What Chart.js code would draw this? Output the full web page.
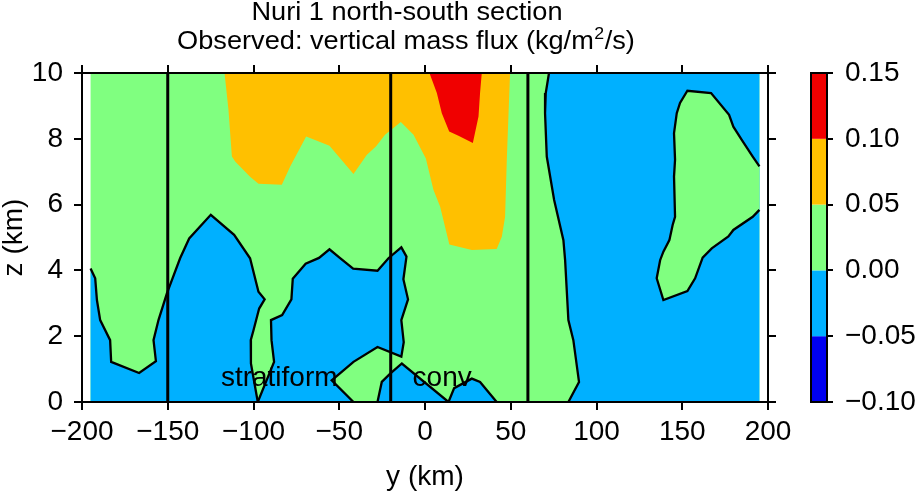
<!DOCTYPE html>
<html>
<head>
<meta charset="utf-8">
<script src="https://cdn.jsdelivr.net/npm/chart.js@4.4.1/dist/chart.umd.min.js"></script>
<style>
  html, body { margin: 0; padding: 0; background: #fff; }
</style>
</head>
<body>
<canvas id="c" width="919" height="491"></canvas>
<script>
var FONT = "'Liberation Sans', Arial, Helvetica, sans-serif";

// axes
var yTickStep = 50;
var zTickStep = 2;
var levels = [-0.10, -0.05, 0.00, 0.05, 0.10, 0.15];
var levelColors = ['#0000f0', '#00b0ff', '#80ff80', '#ffc000', '#f00000'];

// observed section
var dataEdge = [-195, 195];
var sectionBounds = [-150, -20, 60];
var regionNames = ['stratiform', 'conv'];
var regionNameY = [-85, 10];
var regionNameZ = [0.5, 0.5];

var titleLine1 = 'Nuri 1 north-south section';
var titleLine2 = ['Observed: vertical mass flux (kg/m', '2', '/s)'];

// 0 contour, [y km, z km]
var zeroSouth = [
  [-195, 4.06], [-192.3, 3.76], [-191.3, 3.10], [-189.4, 2.49], [-183.6, 1.88],
  [-183.0, 1.22], [-166.7, 0.88], [-156.9, 1.24], [-158.3, 1.88], [-155.4, 2.49],
  [-150.5, 3.30], [-142.8, 4.37], [-137.5, 4.97], [-124.9, 5.69], [-111.3, 5.08],
  [-102.0, 4.37], [-97.1, 3.35], [-93.5, 3.12], [-96.7, 2.84], [-100.0, 2.18],
  [-101.6, 1.88], [-101.5, 1.17], [-97.5, 0]
];
var zeroMid = [
  [-97.5, 0], [-88.0, 1.22], [-89.5, 1.88], [-89.8, 2.49], [-83.3, 2.64],
  [-77.9, 3.12], [-77.1, 3.75], [-69.6, 4.20], [-61.8, 4.38], [-55.7, 4.64],
  [-49.5, 4.37], [-41.9, 4.05], [-27.7, 3.99], [-21.3, 4.37], [-13.8, 4.70],
  [-10.8, 4.42], [-12.6, 3.73], [-9.9, 3.12], [-13.8, 2.49], [-12.4, 1.82],
  [-13.8, 1.38], [-27.7, 1.67], [-41.7, 1.22], [-54.4, 0.66], [-41.7, 0]
];
var zeroConv = [
  [-27.7, 0], [-25.2, 0.61], [-20.3, 0.86], [-13.5, 1.17], [13.7, 0],
  [17.0, 0.42], [27.3, 0.71], [32.1, 0.61], [41.8, 0]
];
var zeroNorth = [
  [72.3, 10], [70.4, 9.39], [70.0, 8.78], [71.0, 7.46], [75.3, 6.14],
  [80.7, 4.92], [81.7, 4.31], [83.6, 2.49], [86.5, 1.88], [89.8, 0.61], [83.6, 0]
];
var zeroIsland = [
  [195, 7.16], [191.1, 7.46], [184.7, 7.97], [179.8, 8.37], [177.3, 8.73],
  [166.8, 9.39], [153.0, 9.46], [148.7, 9.09], [146.8, 8.78], [145.2, 8.17],
  [145.8, 7.36], [145.2, 6.85], [145.8, 5.63], [144.4, 5.38], [142.5, 4.92],
  [139.0, 4.57], [137.1, 4.31], [135.1, 3.76], [139.0, 3.10], [153.0, 3.37],
  [157.5, 3.76], [161.9, 4.39], [167.2, 4.67], [176.9, 5.03], [179.8, 5.23],
  [191.1, 5.63], [195, 5.84]
];
// 0.05 contour
var flux005 = [
  [-116.9, 10], [-114.6, 8.88], [-112.6, 7.46], [-110.7, 7.31], [-102.0, 6.85],
  [-97.1, 6.63], [-83.5, 6.60], [-78.6, 7.16], [-69.3, 8.07], [-55.7, 7.79],
  [-49.5, 7.41], [-41.7, 6.93], [-34.0, 7.51], [-28.5, 7.77], [-23.3, 8.12],
  [-14.1, 8.51], [-6.7, 8.12], [0.5, 7.40], [4.9, 6.45], [8.8, 5.94],
  [14.2, 4.79], [27.3, 4.62], [41.8, 4.65], [44.8, 5.02], [46.7, 5.63],
  [47.7, 7.36], [49.6, 10]
];
// 0.10 contour
var flux010 = [
  [2.6, 10], [6.9, 9.39], [9.8, 8.78], [14.1, 8.22], [19.5, 8.09],
  [27.9, 7.87], [31.2, 8.68], [32.1, 9.39], [33.1, 10]
];

function pts(a) {
    return a.map(function (p) { return {x: p[0], y: p[1]}; });
}
function area(a, color) {
    return {data: pts(a), fill: 'shape', backgroundColor: color,
            borderColor: 'rgba(0,0,0,0)', borderWidth: 0, pointRadius: 0};
}
function line(a, w) {
    return {data: pts(a), fill: false, borderColor: '#000',
            borderWidth: w, pointRadius: 0};
}
function fmtLevel(v) {
    var s = Math.abs(v).toFixed(2);
    return v < -1e-9 ? '\u2212' + s : s;
}

var green = levelColors[2], blue = levelColors[1];
var datasets = [
    area([[dataEdge[0], 0], [dataEdge[0], 10], [dataEdge[1], 10], [dataEdge[1], 0]], green),
    area(zeroSouth.concat([[dataEdge[0], 0]]), blue),
    area(zeroMid, blue),
    area(zeroConv, blue),
    area(zeroNorth.concat([[dataEdge[1], 0], [dataEdge[1], 10]]), blue),
    area(zeroIsland, green),
    area(flux005, levelColors[3]),
    area(flux010, levelColors[4]),
    line(zeroSouth, 2.3),
    line(zeroMid, 2.3),
    line(zeroConv, 2.3),
    line(zeroNorth, 2.3),
    line(zeroIsland, 2.3)
];
sectionBounds.forEach(function (y) {
    datasets.push(line([[y, 0], [y, 10]], 3));
});
// first in list is drawn first
datasets.forEach(function (d, i) { d.order = datasets.length - i; });

var overlay = {
    id: 'overlay',
    afterDatasetsDraw: function (chart) {
        var ctx = chart.ctx;
        var xs = chart.scales.x, zs = chart.scales.y, cb = chart.scales.cb;
        ctx.save();
        ctx.font = '28px ' + FONT;
        ctx.fillStyle = '#000';
        ctx.textAlign = 'center';
        ctx.textBaseline = 'alphabetic';
        regionNames.forEach(function (t, i) {
            ctx.fillText(t, xs.getPixelForValue(regionNameY[i]), zs.getPixelForValue(regionNameZ[i]));
        });

        // colour bar
        var x0 = cb.left - 16;
        for (var i = 0; i < levelColors.length; i++) {
            var top = cb.getPixelForValue(levels[i + 1]);
            var bot = cb.getPixelForValue(levels[i]);
            ctx.fillStyle = levelColors[i];
            ctx.fillRect(x0, top, 16, bot - top);
        }
        ctx.strokeStyle = '#000';
        ctx.lineWidth = 2;
        ctx.strokeRect(x0, cb.top, 16, cb.bottom - cb.top);
        ctx.restore();
    },
    afterDraw: function (chart) {
        var ctx = chart.ctx;
        var cx = 407, sx = 1.045;
        ctx.save();
        ctx.fillStyle = '#000';
        ctx.textBaseline = 'alphabetic';
        ctx.textAlign = 'left';

        var big = '26px ' + FONT, small = '17px ' + FONT;
        ctx.font = big;
        var w = ctx.measureText(titleLine1).width;
        ctx.save();
        ctx.translate(cx, 20);
        ctx.scale(sx, 1);
        ctx.fillText(titleLine1, -w / 2, 0);
        ctx.restore();

        var w0 = ctx.measureText(titleLine2[0]).width;
        var w2 = ctx.measureText(titleLine2[2]).width;
        ctx.font = small;
        var w1 = ctx.measureText(titleLine2[1]).width + 1;
        var tw = w0 + w1 + w2;
        ctx.save();
        ctx.translate(cx - 1, 49.3);
        ctx.scale(sx, 1);
        ctx.font = big;
        ctx.fillText(titleLine2[0], -tw / 2, 0);
        ctx.font = small;
        ctx.fillText(titleLine2[1], -tw / 2 + w0 + 0.5, -10);
        ctx.font = big;
        ctx.fillText(titleLine2[2], -tw / 2 + w0 + w1, 0);
        ctx.restore();
        ctx.restore();
    }
};

var tickFont = {family: FONT, size: 28};
var frameGrid = {drawOnChartArea: false, color: '#000', lineWidth: 2, tickLength: 8};
var frameBorder = {display: true, color: '#000', width: 2, z: 1};

new Chart(document.getElementById('c'), {
    type: 'line',
    data: {datasets: datasets},
    options: {
        responsive: false,
        animation: false,
        events: [],
        layout: {padding: 0, autoPadding: false},
        plugins: {legend: {display: false}, tooltip: {enabled: false}},
        scales: {
            x: {
                type: 'linear', position: 'bottom', min: -200, max: 200,
                grid: frameGrid, border: frameBorder,
                ticks: {stepSize: yTickStep, color: '#000', font: tickFont, padding: 5,
                        maxRotation: 0, autoSkip: false, callback: function (v) {
                            return v < 0 ? '\u2212' + (-v) : '' + v; }},
                title: {display: true, text: 'y (km)', color: '#000',
                        font: {family: FONT, size: 28, lineHeight: 1}, padding: 0},
                afterFit: function (s) { s.height = 89; }
            },
            x2: {
                type: 'linear', position: 'top', min: -200, max: 200,
                grid: frameGrid, border: frameBorder,
                ticks: {stepSize: yTickStep, display: false},
                afterFit: function (s) { s.height = 73; }
            },
            y: {
                type: 'linear', position: 'left', min: 0, max: 10,
                grid: frameGrid, border: frameBorder,
                ticks: {stepSize: zTickStep, color: '#000', font: tickFont, padding: 11},
                title: {display: true, text: 'z (km)', color: '#000',
                        font: {family: FONT, size: 28, lineHeight: 1}, padding: 0},
                afterFit: function (s) { s.width = 82; }
            },
            y2: {
                type: 'linear', position: 'right', min: 0, max: 10,
                grid: frameGrid, border: frameBorder,
                ticks: {stepSize: zTickStep, display: false},
                afterFit: function (s) { s.width = 59; }
            },
            cb: {
                type: 'linear', position: 'right', min: levels[0], max: levels[levels.length - 1],
                grid: {drawOnChartArea: false, color: '#000', lineWidth: 2, tickLength: 6},
                border: frameBorder,
                ticks: {color: '#000', font: tickFont, padding: 12, callback: fmtLevel},
                afterBuildTicks: function (s) {
                    s.ticks = levels.map(function (v) { return {value: v}; });
                },
                afterFit: function (s) { s.width = 92; }
            }
        }
    },
    plugins: [overlay]
});
</script>
</body>
</html>
